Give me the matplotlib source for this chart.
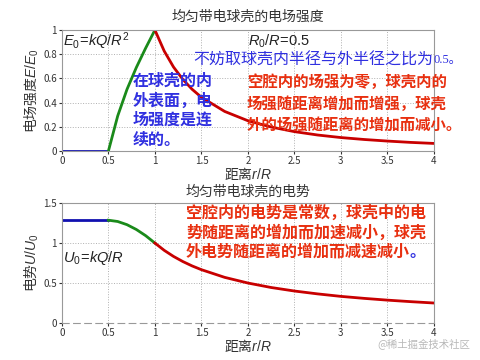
import matplotlib.pyplot as plt

plt.rcParams['font.family'] = ['Noto Sans CJK SC', 'DejaVu Sans']
plt.rcParams['mathtext.fontset'] = 'custom'
plt.rcParams['mathtext.rm'] = 'Liberation Sans'
plt.rcParams['mathtext.it'] = 'Liberation Sans:italic'
plt.rcParams['mathtext.bf'] = 'Liberation Sans:bold'

# Data
r_cav = [0, 0.5]
E_cav = [0, 0]
r_shell = [0.5, 0.6, 0.7, 0.8, 0.9, 1.0]
E_shell = [0, 0.29, 0.51, 0.69, 0.85, 1.0]
r_out = [1.0, 1.1, 1.2, 1.3, 1.4, 1.5, 1.75, 2.0, 2.25, 2.5, 2.75, 3.0, 3.25, 3.5, 3.75, 4.0]
E_out = [1.0, 0.826, 0.694, 0.592, 0.51, 0.444, 0.327, 0.25, 0.198, 0.16, 0.132, 0.111, 0.095, 0.082, 0.071, 0.0625]

U_cav = [1.286, 1.286]
U_shell = [1.286, 1.27, 1.23, 1.17, 1.093, 1.0]
U_out = [1.0, 0.909, 0.833, 0.769, 0.714, 0.667, 0.571, 0.5, 0.444, 0.4, 0.364, 0.333, 0.308, 0.286, 0.267, 0.25]

xticks = [0, 0.5, 1, 1.5, 2, 2.5, 3, 3.5, 4]

blue = '#1010b0'
green = '#1a8a1a'
red = '#c80000'
txt_red = '#e83010'
txt_blue = '#3030e0'

fig = plt.figure(figsize=(4.8, 3.6), dpi=100)
ax1 = fig.add_axes([0.129, 0.5806, 0.775, 0.336])
ax2 = fig.add_axes([0.129, 0.1028, 0.775, 0.333])

for ax in (ax1, ax2):
    ax.set_xlim(0, 4)
    ax.set_xticks(xticks)
    ax.set_xticklabels([f'{t:g}' for t in xticks])
    ax.grid(True, linestyle=':', color='#b0b0b0', linewidth=0.7)
    ax.tick_params(labelsize=7, colors='#333333', length=2, pad=1.5)
    for s in ax.spines.values():
        s.set_color('#999999')
        s.set_linewidth(0.8)
    ax.set_xlabel('距离$r/R$', fontsize=10, color='#333333', labelpad=0)

# electric field
ax1.plot(r_cav, E_cav, color=blue, lw=2)
ax1.plot(r_shell, E_shell, color=green, lw=2)
ax1.plot(r_out, E_out, color=red, lw=2)
ax1.set_ylim(0, 1)
ax1.set_yticks([0, 0.2, 0.4, 0.6, 0.8, 1])
ax1.set_yticklabels(['0', '0.2', '0.4', '0.6', '0.8', '1'])
ax1.set_ylabel('电场强度$E/E_0$', fontsize=10, color='#333333', labelpad=2)
ax1.set_title('均匀带电球壳的电场强度', fontsize=10, color='#333333', pad=7)

# potential
ax2.plot(r_cav, U_cav, color=blue, lw=2)
ax2.plot(r_shell, U_shell, color=green, lw=2)
ax2.plot(r_out, U_out, color=red, lw=2)
ax2.set_ylim(0, 1.5)
ax2.set_yticks([0, 0.5, 1, 1.5])
ax2.set_yticklabels(['0', '0.5', '1', '1.5'])
ax2.spines['bottom'].set_linestyle((0, (6, 4)))
ax2.set_ylabel('电势$U/U_0$', fontsize=10, color='#333333', labelpad=2)
ax2.set_title('均匀带电球壳的电势', fontsize=10, color='#333333', pad=5)

renderer = fig.canvas.get_renderer()


# place text at pixel position, scaled so it spans the given pixel width
def ptext(x, y, s, width=None, **kw):
    t = fig.text(x / 480, 1 - y / 360, s, va='center', **kw)
    if width:
        w = t.get_window_extent(renderer).width
        t.set_fontsize(t.get_fontsize() * width / w)
    return t


ptext(63, 41, '$E_0\\!=\\!kQ/R^2$', fontsize=10.5, color='#222222')
ptext(248, 41, '$R_0/R\\!=\\!0.5$', fontsize=10.5, color='#222222')
ptext(193, 60, '不妨取球壳内半径与外半径之比为', width=240, color=txt_blue)
ptext(434, 60, '0.5。', width=28, color=txt_blue, family=['Liberation Serif', 'Noto Sans CJK SC'])

blue_lines = ['在球壳的内', '外表面，电', '场强度是连', '续的。']
for yy, line in zip([81, 100.5, 120, 139.5], blue_lines):
    ptext(133, yy, line, width=80 * len(line) / 5, color=txt_blue, fontweight='bold')

red_top = ['空腔内的场强为零，球壳内的', '场强随距离增加而增强，球壳', '外的场强随距离的增加而减小。']
for yy, line in zip([82, 104, 125], red_top):
    ptext(247, yy, line, width=15.4 * len(line), color=txt_red, fontweight='bold')

red_bot = ['空腔内的电势是常数，球壳中的电', '势随距离的增加而加速减小，球壳', '外电势随距离的增加而减速减小']
for yy, line in zip([213, 233, 252], red_bot):
    ptext(186, yy, line, width=16 * len(line), color=txt_red, fontweight='bold')
ptext(186 + 16 * 14, 252, '。', width=16, color=txt_blue, fontweight='bold')

ptext(63, 258, '$U_0\\!=\\!kQ/R$', fontsize=10.5, color='#222222')
ptext(470, 344, '@稀土掘金技术社区', color='#b8b8b8', fontsize=7.5, ha='right')

fig.savefig('out.png', dpi=100)
